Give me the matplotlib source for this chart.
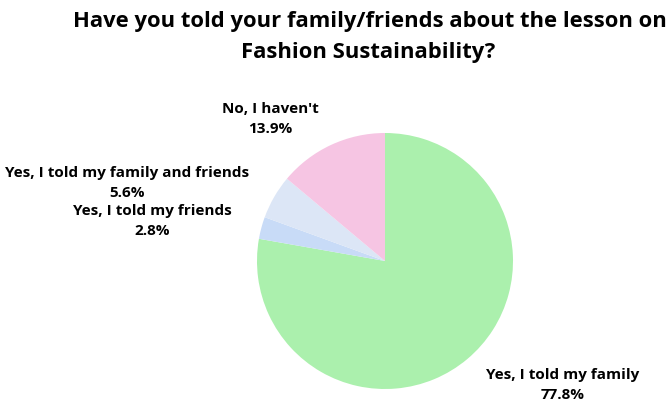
import matplotlib
matplotlib.use("Agg")
import matplotlib.pyplot as plt

plt.rcParams['font.family'] = ['Open Sans', 'DejaVu Sans']

# survey answers, counted clockwise from 12 o'clock
answers = ["Yes, I told my family", "Yes, I told my friends",
           "Yes, I told my family and friends", "No, I haven't"]
counts = [28, 1, 2, 5]
colors = ["#abf0ad", "#c8dbf7", "#dce6f6", "#f6c5e3"]

# label centre x and baseline y of the name line, in figure pixels
label_pos = [(563, 379), (152, 215), (127, 177), (270, 113)]

W, H = 669, 405
fig = plt.figure(figsize=(W / 100, H / 100), dpi=100)

cx, cy, r = 385, 261, 128
ax = fig.add_axes([(cx - r) / W, (H - cy - r) / H, 2 * r / W, 2 * r / H])
ax.pie(counts, colors=colors, startangle=90, counterclock=False,
       wedgeprops=dict(linewidth=0))
ax.set_xlim(-1, 1)
ax.set_ylim(-1, 1)
ax.axis("off")

total = sum(counts)
for name, n, (x, y) in zip(answers, counts, label_pos):
    pct = 100 * n / total
    fig.text(x / W, 1 - y / H, name, ha="center", va="baseline",
             fontsize=11, fontweight="bold")
    fig.text(x / W, 1 - (y + 20) / H, f"{pct:.1f}%", ha="center",
             va="baseline", fontsize=11, fontweight="bold")

fig.text(370 / W, 1 - 27 / H,
         "Have you told your family/friends about the lesson on",
         ha="center", va="baseline", fontsize=15.8, fontweight="bold")
fig.text(368 / W, 1 - 58 / H, "Fashion Sustainability?",
         ha="center", va="baseline", fontsize=15.8, fontweight="bold")

fig.savefig("out.png", dpi=100, facecolor="white")
